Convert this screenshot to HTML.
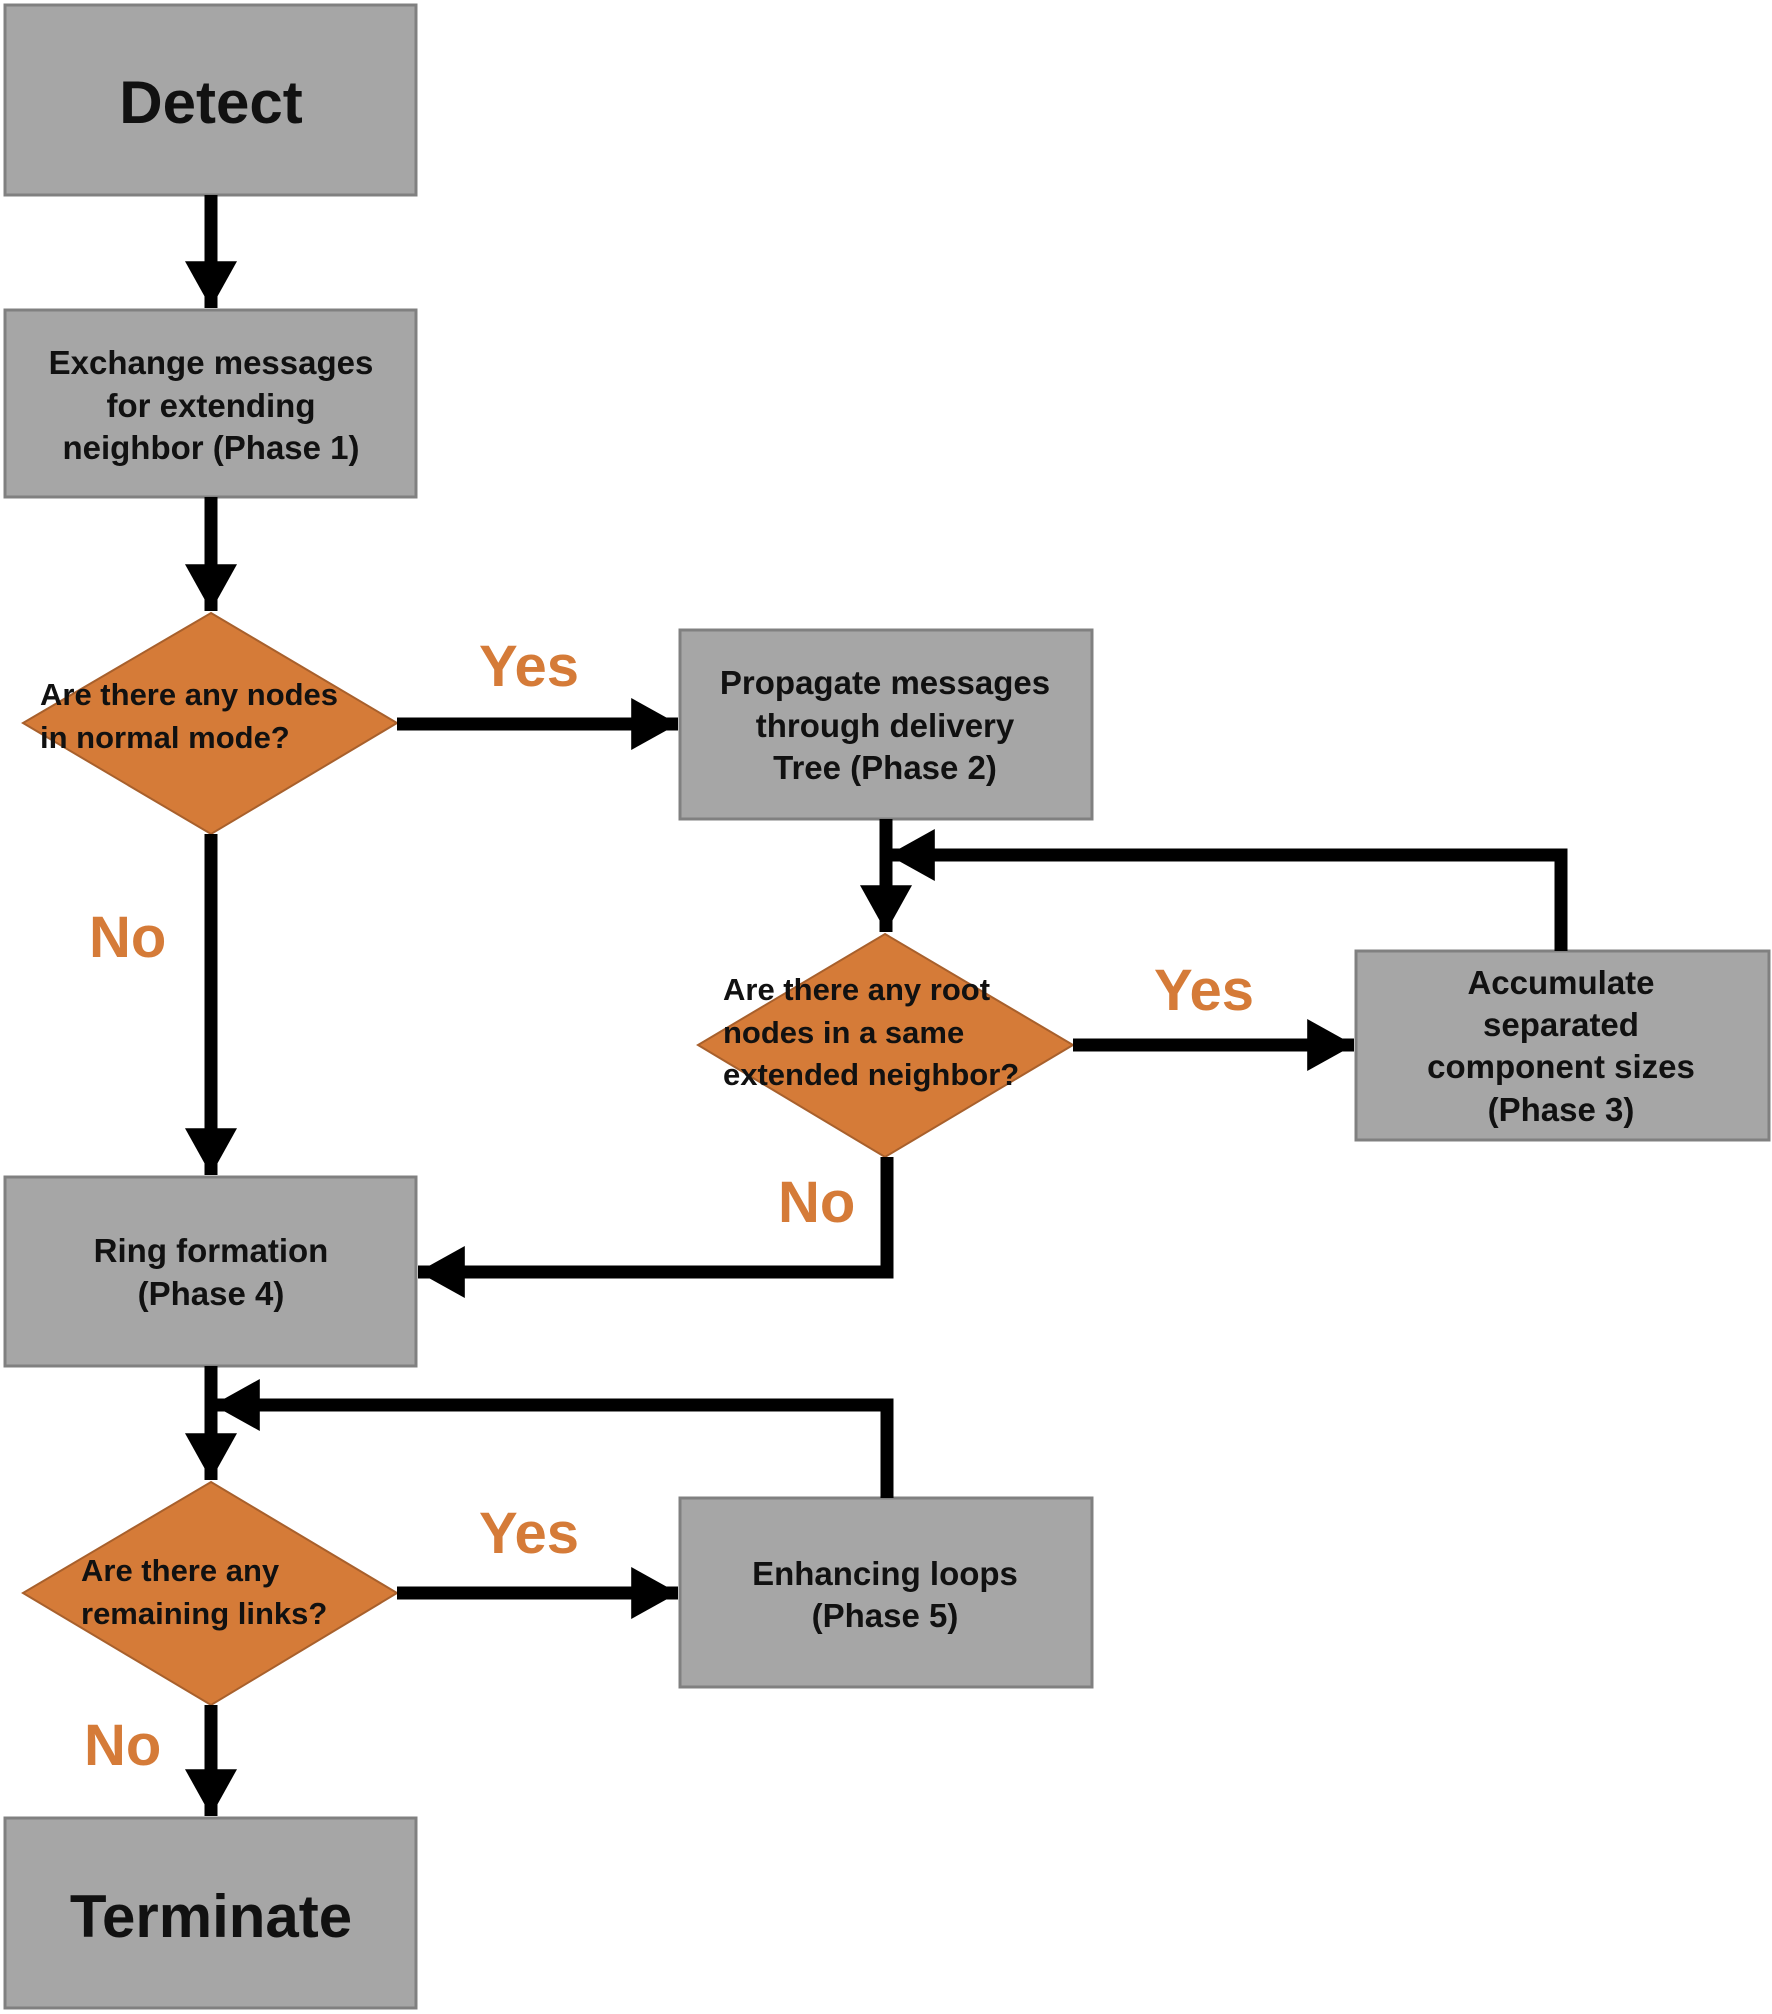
<!DOCTYPE html>
<html><head><meta charset="utf-8"><style>html,body{margin:0;padding:0;background:#fff}svg{display:block}</style></head>
<body>
<svg width="1772" height="2014" viewBox="0 0 1772 2014" xmlns="http://www.w3.org/2000/svg" font-family="Liberation Sans, sans-serif">
<defs>
<marker id="a" markerWidth="4" markerHeight="4" refX="3.6" refY="2" orient="auto" markerUnits="strokeWidth"><path d="M0,0 L3.6,2 L0,4 z" fill="#000"/></marker>
</defs>
<g fill="#a6a6a6" stroke="#808080" stroke-width="3">
<rect x="5" y="5" width="411" height="190"/>
<rect x="5" y="310" width="411" height="187"/>
<rect x="680" y="630" width="412" height="189"/>
<rect x="1356" y="951" width="413" height="189"/>
<rect x="5" y="1177" width="411" height="189"/>
<rect x="680" y="1498" width="412" height="189"/>
<rect x="5" y="1818" width="411" height="190"/>
</g>
<g fill="#d57b38" stroke="#a8602c" stroke-width="2">
<polygon points="211,613 397,723 211,834 23,723"/>
<polygon points="885,934 1073,1045 885,1157 698,1045"/>
<polygon points="211,1482 397,1593 211,1705 23,1593"/>
</g>
<g stroke="#000" stroke-width="13" fill="none" marker-end="url(#a)">
<line x1="211" y1="195" x2="211" y2="308"/>
<line x1="211" y1="497" x2="211" y2="611"/>
<line x1="397" y1="724" x2="678" y2="724"/>
<line x1="886" y1="819" x2="886" y2="932"/>
<polyline points="1561,951 1561,855 888,855"/>
<line x1="1073" y1="1045" x2="1354" y2="1045"/>
<line x1="211" y1="834" x2="211" y2="1175"/>
<polyline points="887,1157 887,1272 418,1272"/>
<line x1="211" y1="1366" x2="211" y2="1480"/>
<polyline points="887,1498 887,1405 213,1405"/>
<line x1="397" y1="1593" x2="678" y2="1593"/>
<line x1="211" y1="1705" x2="211" y2="1816"/>
</g>
<g font-weight="bold" fill="#111" text-anchor="middle">
<text x="211" y="123" font-size="60">Detect</text>
<text x="211" y="374" font-size="33">Exchange messages</text>
<text x="211" y="417" font-size="33">for extending</text>
<text x="211" y="459" font-size="33">neighbor (Phase 1)</text>
<text x="885" y="694" font-size="33">Propagate messages</text>
<text x="885" y="737" font-size="33">through delivery</text>
<text x="885" y="779" font-size="33">Tree (Phase 2)</text>
<text x="1561" y="994" font-size="33">Accumulate</text>
<text x="1561" y="1036" font-size="33">separated</text>
<text x="1561" y="1078" font-size="33">component sizes</text>
<text x="1561" y="1121" font-size="33">(Phase 3)</text>
<text x="211" y="1262" font-size="33">Ring formation</text>
<text x="211" y="1305" font-size="33">(Phase 4)</text>
<text x="885" y="1585" font-size="33">Enhancing loops</text>
<text x="885" y="1627" font-size="33">(Phase 5)</text>
<text x="211" y="1937" font-size="60">Terminate</text>
</g>
<g font-weight="bold" fill="#111" font-size="31">
<text x="40" y="705">Are there any nodes</text>
<text x="40" y="748">in normal mode?</text>
<text x="723" y="1000">Are there any root</text>
<text x="723" y="1043">nodes in a same</text>
<text x="723" y="1085">extended neighbor?</text>
<text x="81" y="1581">Are there any</text>
<text x="81" y="1624">remaining links?</text>
</g>
<g font-weight="bold" fill="#d57b38" font-size="58">
<text x="479" y="686">Yes</text>
<text x="1154" y="1010">Yes</text>
<text x="479" y="1553">Yes</text>
<text x="89" y="957">No</text>
<text x="778" y="1222">No</text>
<text x="84" y="1765">No</text>
</g>
</svg>
</body></html>
